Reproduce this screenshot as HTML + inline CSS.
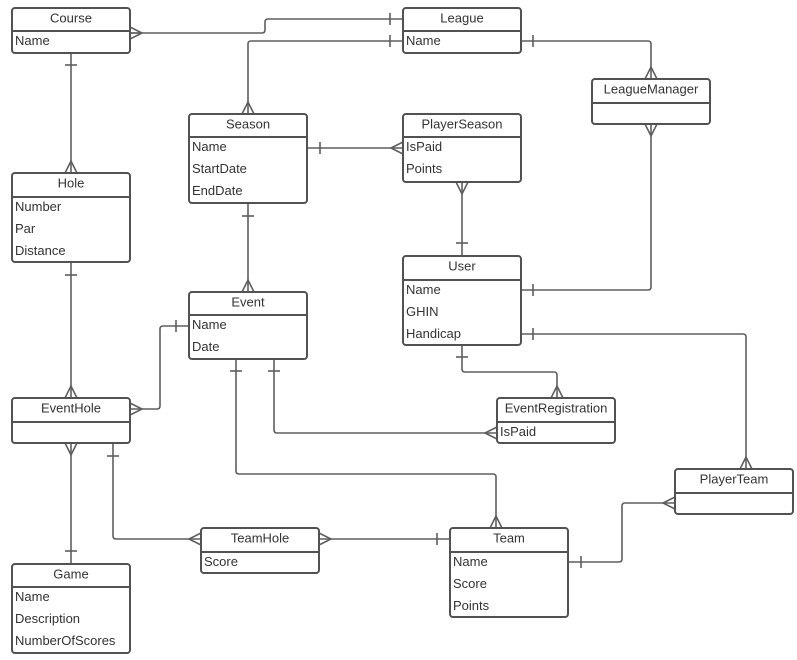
<!DOCTYPE html>
<html>
<head>
<meta charset="utf-8">
<style>
  html, body { margin: 0; padding: 0; background: #ffffff; }
  svg { display: block; }
  .box { fill: #ffffff; stroke: #525252; stroke-width: 2; }
  .div { stroke: #525252; stroke-width: 2; }
  .ln { fill: none; stroke: #5e5e5e; stroke-width: 1.6; }
  text { font-family: "Liberation Sans", Arial, sans-serif; font-size: 13px; fill: #333333; }
  .h { text-anchor: middle; }
</style>
</head>
<body>
<svg width="797" height="660" viewBox="0 0 797 660" xmlns="http://www.w3.org/2000/svg">
  <!-- connectors -->
  <g class="ln">
    <!-- 1 Course - League -->
    <path d="M130,33 H262 Q265,33 265,30 V22 Q265,19 268,19 H403"/>
    <path d="M130,27 L142,33 L130,39 M130,33 H142"/>
    <path d="M390,13 V25"/>
    <!-- 2 League - Season -->
    <path d="M403,41 H251 Q248,41 248,44 V114"/>
    <path d="M390,35 V47"/>
    <path d="M242,114 L248,102 L254,114"/>
    <!-- 3 Course - Hole -->
    <path d="M71,53 V173"/>
    <path d="M65,65 H77"/>
    <path d="M65,173 L71,161 L77,173"/>
    <!-- 4 Season - PlayerSeason -->
    <path d="M307,148 H403"/>
    <path d="M320,142 V154"/>
    <path d="M403,142 L391,148 L403,154"/>
    <!-- 5 League - LeagueManager -->
    <path d="M521,41 H648 Q651,41 651,44 V79"/>
    <path d="M533,35 V47"/>
    <path d="M645,79 L651,67 L657,79"/>
    <!-- 6 LeagueManager - User -->
    <path d="M651,124 V287 Q651,290 648,290 H521"/>
    <path d="M645,124 L651,136 L657,124"/>
    <path d="M533,284 V296"/>
    <!-- 7 PlayerSeason - User -->
    <path d="M462,182 V256"/>
    <path d="M456,182 L462,194 L468,182"/>
    <path d="M456,243 H468"/>
    <!-- 8 User - PlayerTeam -->
    <path d="M521,334 H743 Q746,334 746,337 V469"/>
    <path d="M533,328 V340"/>
    <path d="M740,469 L746,457 L752,469"/>
    <!-- 9 Season - Event -->
    <path d="M248,203 V292"/>
    <path d="M242,216 H254"/>
    <path d="M242,292 L248,280 L254,292"/>
    <!-- 10 Hole - EventHole -->
    <path d="M71,262 V398"/>
    <path d="M65,275 H77"/>
    <path d="M65,398 L71,386 L77,398"/>
    <!-- 11 Event - EventHole -->
    <path d="M189,326 H163 Q160,326 160,329 V406 Q160,409 157,409 H130"/>
    <path d="M176,320 V332"/>
    <path d="M130,403 L142,409 L130,415"/>
    <!-- 12 EventHole - Game -->
    <path d="M71,443 V564"/>
    <path d="M65,443 L71,455 L77,443"/>
    <path d="M65,551 H77"/>
    <!-- 13 EventHole - TeamHole -->
    <path d="M113,443 V536 Q113,539 116,539 H201"/>
    <path d="M107,456 H119"/>
    <path d="M201,533 L189,539 L201,545"/>
    <!-- 14 TeamHole - Team -->
    <path d="M319,539 H450"/>
    <path d="M319,533 L331,539 L319,545"/>
    <path d="M437,533 V545"/>
    <!-- 15 Event - Team -->
    <path d="M236,359 V471 Q236,474 239,474 H493 Q496,474 496,477 V528"/>
    <path d="M230,371 H242"/>
    <path d="M490,528 L496,516 L502,528"/>
    <!-- 16 Event - EventRegistration -->
    <path d="M274,359 V430 Q274,433 277,433 H497"/>
    <path d="M268,371 H280"/>
    <path d="M497,427 L485,433 L497,439"/>
    <!-- 17 User - EventRegistration -->
    <path d="M462,345 V369 Q462,372 465,372 H554 Q557,372 557,375 V398"/>
    <path d="M456,357 H468"/>
    <path d="M551,398 L557,386 L563,398"/>
    <!-- 18 Team - PlayerTeam -->
    <path d="M568,562 H619 Q622,562 622,559 V506 Q622,503 625,503 H675"/>
    <path d="M581,556 V568"/>
    <path d="M675,497 L663,503 L675,509"/>
  </g>

  <!-- Course -->
  <rect class="box" x="12" y="8" width="118" height="45" rx="3"/>
  <line class="div" x1="12" y1="31" x2="130" y2="31"/>
  <text class="h" x="71" y="22.5">Course</text>
  <text x="15" y="45">Name</text>

  <!-- League -->
  <rect class="box" x="403" y="8" width="118" height="45" rx="3"/>
  <line class="div" x1="403" y1="31" x2="521" y2="31"/>
  <text class="h" x="462" y="22.5">League</text>
  <text x="406" y="45">Name</text>

  <!-- LeagueManager -->
  <rect class="box" x="592" y="79" width="118" height="45" rx="3"/>
  <line class="div" x1="592" y1="103" x2="710" y2="103"/>
  <text class="h" x="651" y="93.5">LeagueManager</text>

  <!-- Season -->
  <rect class="box" x="189" y="114" width="118" height="89" rx="3"/>
  <line class="div" x1="189" y1="137" x2="307" y2="137"/>
  <text class="h" x="248" y="128.5">Season</text>
  <text x="192" y="151">Name</text>
  <text x="192" y="173">StartDate</text>
  <text x="192" y="195">EndDate</text>

  <!-- PlayerSeason -->
  <rect class="box" x="403" y="114" width="118" height="68" rx="3"/>
  <line class="div" x1="403" y1="137" x2="521" y2="137"/>
  <text class="h" x="462" y="128.5">PlayerSeason</text>
  <text x="406" y="151">IsPaid</text>
  <text x="406" y="173">Points</text>

  <!-- Hole -->
  <rect class="box" x="12" y="173" width="118" height="89" rx="3"/>
  <line class="div" x1="12" y1="197" x2="130" y2="197"/>
  <text class="h" x="71" y="187.5">Hole</text>
  <text x="15" y="211">Number</text>
  <text x="15" y="233">Par</text>
  <text x="15" y="255">Distance</text>

  <!-- User -->
  <rect class="box" x="403" y="256" width="118" height="89" rx="3"/>
  <line class="div" x1="403" y1="280" x2="521" y2="280"/>
  <text class="h" x="462" y="270.5">User</text>
  <text x="406" y="294">Name</text>
  <text x="406" y="316">GHIN</text>
  <text x="406" y="338">Handicap</text>

  <!-- Event -->
  <rect class="box" x="189" y="292" width="118" height="67" rx="3"/>
  <line class="div" x1="189" y1="315" x2="307" y2="315"/>
  <text class="h" x="248" y="306.5">Event</text>
  <text x="192" y="329">Name</text>
  <text x="192" y="351">Date</text>

  <!-- EventHole -->
  <rect class="box" x="12" y="398" width="118" height="45" rx="3"/>
  <line class="div" x1="12" y1="422" x2="130" y2="422"/>
  <text class="h" x="71" y="412.5">EventHole</text>

  <!-- EventRegistration -->
  <rect class="box" x="497" y="398" width="118" height="45" rx="3"/>
  <line class="div" x1="497" y1="422" x2="615" y2="422"/>
  <text class="h" x="556" y="412.5">EventRegistration</text>
  <text x="500" y="436">IsPaid</text>

  <!-- PlayerTeam -->
  <rect class="box" x="675" y="469" width="118" height="45" rx="3"/>
  <line class="div" x1="675" y1="493" x2="793" y2="493"/>
  <text class="h" x="734" y="483.5">PlayerTeam</text>

  <!-- TeamHole -->
  <rect class="box" x="201" y="528" width="118" height="45" rx="3"/>
  <line class="div" x1="201" y1="552" x2="319" y2="552"/>
  <text class="h" x="260" y="542.5">TeamHole</text>
  <text x="204" y="566">Score</text>

  <!-- Team -->
  <rect class="box" x="450" y="528" width="118" height="89" rx="3"/>
  <line class="div" x1="450" y1="552" x2="568" y2="552"/>
  <text class="h" x="509" y="542.5">Team</text>
  <text x="453" y="566">Name</text>
  <text x="453" y="588">Score</text>
  <text x="453" y="610">Points</text>

  <!-- Game -->
  <rect class="box" x="12" y="564" width="118" height="89" rx="3"/>
  <line class="div" x1="12" y1="587" x2="130" y2="587"/>
  <text class="h" x="71" y="578.5">Game</text>
  <text x="15" y="601">Name</text>
  <text x="15" y="623">Description</text>
  <text x="15" y="645">NumberOfScores</text>
</svg>
</body>
</html>
